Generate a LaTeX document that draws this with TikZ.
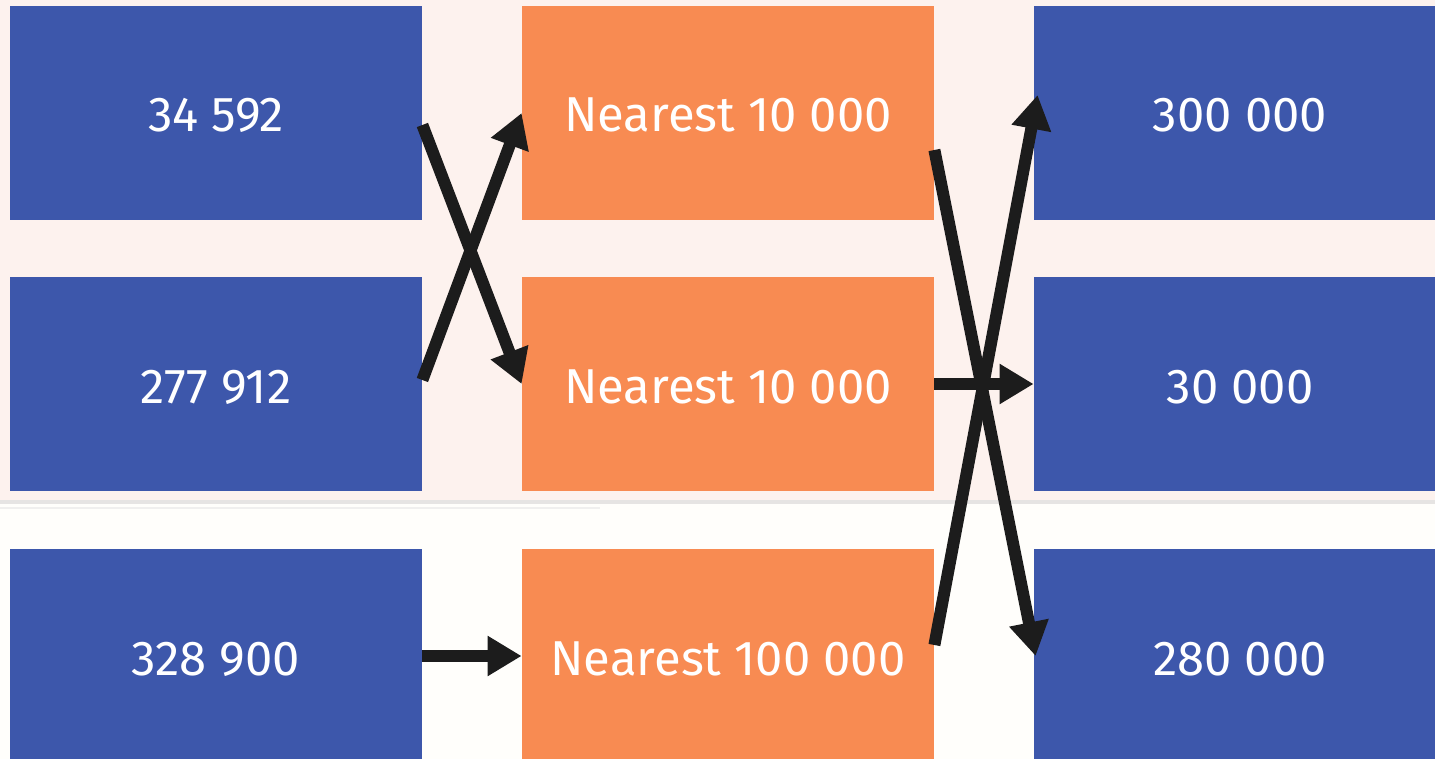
\documentclass[tikz,border=0pt]{standalone}
\usepackage{fontspec}
\setmainfont{Fira Sans}
\usetikzlibrary{arrows.meta}
\definecolor{bgpink}{HTML}{FDF2EE}
\definecolor{bgwhite}{HTML}{FFFEFB}
\definecolor{bandgray}{HTML}{E6E4E3}
\definecolor{boxblue}{HTML}{3D57AB}
\definecolor{boxorange}{HTML}{F88B52}
\definecolor{arrowblack}{HTML}{1C1C1C}
\tikzset{
  box/.style={minimum width=206pt, minimum height=107pt, inner sep=0pt,
    text height=19pt, text depth=0pt,
    text=white, font=\fontsize{24.5}{29}\selectfont},
  bluebox/.style={box, fill=boxblue},
  orangebox/.style={box, fill=boxorange},
  conn/.style={draw=arrowblack, line width=6pt,
    -{Triangle[length=17pt,width=19pt]}}
}
\begin{document}
\begin{tikzpicture}[x=0.5pt,y=-0.5pt]
\useasboundingbox (0,0) rectangle (1435,759);
\begin{scope}
\clip (0,0) rectangle (1435,759);
\fill[bgpink] (0,0) rectangle (1435,500);
\fill[bgwhite] (0,500) rectangle (1435,759);
\fill[bandgray] (0,500) rectangle (1435,504);
\fill[bandgray!60] (0,507) rectangle (600,509);
% boxes
\node[bluebox] (a) at (216,113) {34 592};
\node[bluebox] (b) at (216,384) {277 912};
\node[bluebox] (c) at (216,656) {328 900};
\node[orangebox] (m1) at (728,113) {Nearest 10 000};
\node[orangebox] (m2) at (728,384) {Nearest 10 000};
\node[orangebox] (m3) at (728,656) {Nearest 100 000};
\node[bluebox] (r1) at (1240,113) {300 000};
\node[bluebox] (r2) at (1240,384) {30 000};
\node[bluebox] (r3) at (1240,656) {280 000};
\end{scope}
% connectors
\draw[conn] ([yshift=-6pt]a.east) -- (m2.west);
\draw[conn] ([yshift=2pt]b.east) -- (m1.west);
\draw[conn] (c.east) -- (m3.west);
\draw[conn] ([yshift=-18.5pt]m1.east) -- ([xshift=1pt]r3.west);
\draw[conn] (m2.east) -- (r2.west);
\draw[conn] ([yshift=5.5pt]m3.east) -- ([xshift=2pt,yshift=9pt]r1.west);
\end{tikzpicture}
\end{document}
